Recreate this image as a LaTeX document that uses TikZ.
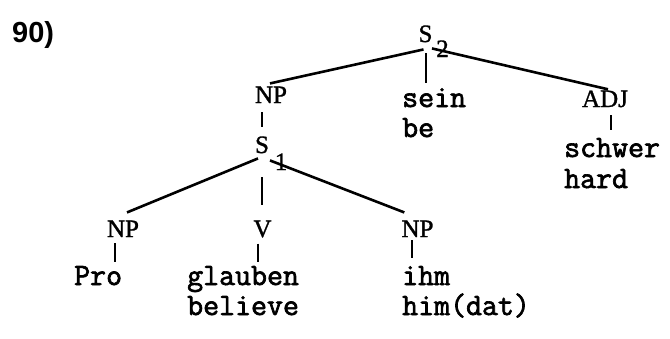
\documentclass[tikz,border=0pt]{standalone}
\usepackage{fontspec}
\setmainfont{Liberation Serif}[FakeBold=1.2]
\newfontfamily\numfont{Liberation Sans}
\newfontfamily\twfont{Latin Modern Mono}[FakeBold=2.2]
\usetikzlibrary{calc}
\begin{document}
\begin{tikzpicture}[x=1pt,y=-1pt,
  lab/.style={inner sep=0pt, font=\fontsize{25}{30}\selectfont, anchor=base},
  word/.style={inner sep=0pt, font=\twfont\fontsize{31}{30}\selectfont, anchor=base west},
  sub/.style={inner sep=0pt, font=\fontsize{25}{30}\selectfont, anchor=base},
  edge/.style={line width=2.6pt}]
\useasboundingbox (0,0) rectangle (670,338);
\node[anchor=base west, inner sep=0pt, font=\numfont\bfseries\fontsize{29}{30}\selectfont] (num) at (12,42) {90)};
\node[lab] (S2) at (425.5,42) {S};
\node[sub] (S2i) at (442.5,57) {2};
\node[lab] (NPa) at (271,103) {NP};
\node[word] (sein) at (402,107) {sein};
\node[word] (be) at (402,137) {be};
\node[lab] (ADJ) at (605,107) {ADJ};
\node[word] (schwer) at (564,157) {schwer};
\node[word] (hard) at (564,188) {hard};
\node[lab] (S1) at (262,153) {S};
\node[sub] (S1i) at (281,170) {1};
\node[lab] (NPb) at (123,237) {NP};
\node[lab] (V) at (262.5,237) {V};
\node[lab] (NPc) at (417.5,237) {NP};
\node[word] (pro) at (74,285) {Pro};
\node[word] (glauben) at (187,285) {glauben};
\node[word] (believe) at (187,315) {believe};
\node[word] (ihm) at (402,285) {ihm};
\node[word] (himdat) at (402,315) {him(dat)};
% connectors
\draw[edge] ($(S2.south)+(-2,7)$) -- ($(NPa.north)+(-1,-3)$);
\draw[edge] ($(S2.south)+(0.5,11)$) -- ($(S2.south |- NPa.north)+(0.5,-3)$);
\draw[edge] ($(S2.south)+(6.5,6)$) -- ($(ADJ.north)+(3,-1)$);
\draw[edge] ($(S1.north |- NPa.south)+(0,9)$) -- ($(S1.north)+(0,-9)$);
\draw[edge] ($(S1.south)+(-4,5)$) -- ($(NPb.north)+(4,-8)$);
\draw[edge] ($(S1.south)+(0,24)$) -- ($(V.north)+(-0.5,-15)$);
\draw[edge] ($(S1.south)+(8,7)$) -- ($(NPc.north west)+(3,-8)$);
\draw[edge] ($(NPb.south)+(-8,6)$) -- ($(NPb.south |- pro.north)+(-8,-4)$);
\draw[edge] ($(V.south)+(-4.5,6)$) -- ($(V.south |- glauben.north)+(-4.5,-4)$);
\draw[edge] ($(NPc.south)+(-5.5,3)$) -- ($(NPc.south |- ihm.north)+(-5.5,-8)$);
\draw[edge] ($(ADJ.south)+(6,8)$) -- ($(ADJ.south |- schwer.north)+(6,-8)$);
\end{tikzpicture}
\end{document}
